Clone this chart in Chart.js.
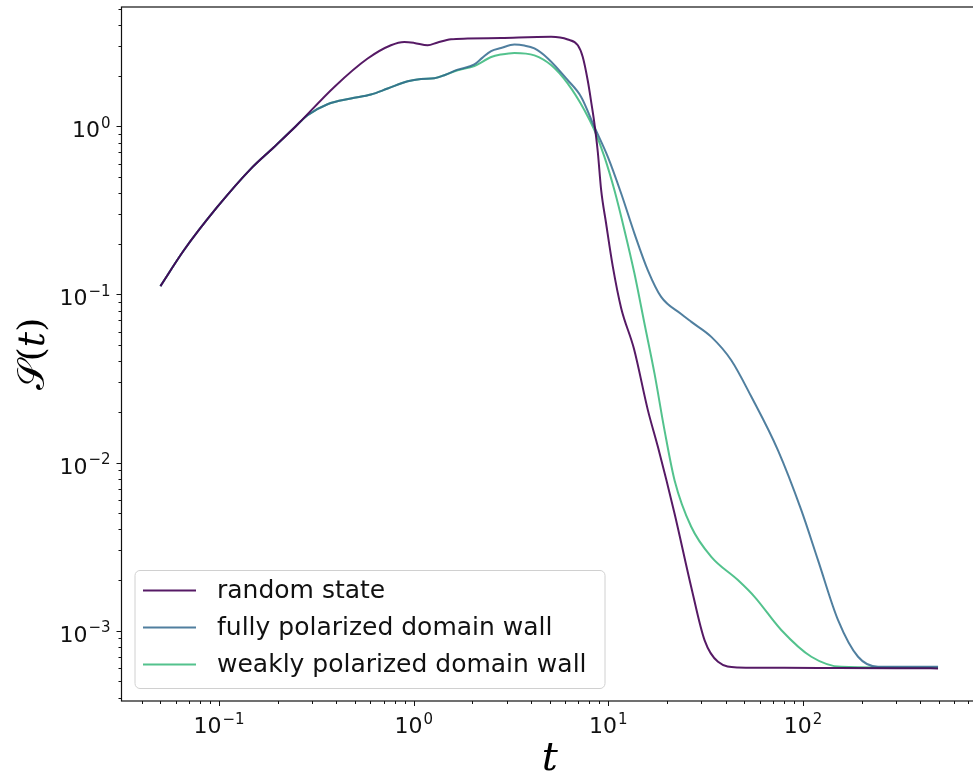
<!DOCTYPE html>
<html>
<head>
<meta charset="utf-8">
<script src="https://cdn.jsdelivr.net/npm/chart.js@4.4.0/dist/chart.umd.min.js"></script>
<style>
  html, body { margin: 0; padding: 0; background: #ffffff; overflow: hidden; }
  #wrap { width: 980px; height: 780px; }
</style>
</head>
<body>
<div id="wrap"><canvas id="c" width="980" height="780"></canvas></div>
<script>
// Series labels
const seriesNames = ['random state', 'fully polarized domain wall', 'weakly polarized domain wall'];

// Random state: time t and S(t)
const randomT = [0.05, 0.066, 0.098, 0.146, 0.192, 0.248, 0.391, 0.58, 0.764, 0.895, 1.007, 1.18, 1.328, 1.555, 1.895, 2.81, 5.08, 6.19, 6.97, 7.39, 7.85, 8.2, 8.48, 8.83, 9.18, 9.74, 10.55, 11.64, 13.54, 15.96, 17.97, 21.88, 26.65, 31.2, 36.6, 46.3, 80, 150, 300, 494];
const randomS = [0.112, 0.183, 0.331, 0.56, 0.753, 1.0, 1.713, 2.526, 3.03, 3.17, 3.13, 3.03, 3.15, 3.29, 3.32, 3.35, 3.40, 3.28, 3.03, 2.58, 1.85, 1.35, 1.04, 0.70, 0.42, 0.264, 0.1457, 0.0828, 0.0475, 0.0205, 0.0124, 0.00498, 0.00182, 0.000879, 0.000653, 0.000605, 0.000602, 0.0006, 0.000598, 0.000597];

// Fully polarized domain wall
const fullyT = [0.05, 0.066, 0.098, 0.146, 0.192, 0.248, 0.285, 0.361, 0.476, 0.603, 0.735, 0.932, 1.09, 1.276, 1.436, 1.683, 2.05, 2.25, 2.50, 2.81, 3.29, 3.70, 4.17, 4.89, 6.19, 7.25, 8.48, 9.94, 11.64, 13.62, 15.96, 18.68, 23.66, 26.7, 33.8, 42.8, 54.3, 74.3, 98, 119.4, 151.4, 191.8, 243, 494];
const fullyS = [0.112, 0.183, 0.331, 0.56, 0.753, 1.0, 1.163, 1.352, 1.461, 1.543, 1.675, 1.851, 1.91, 1.93, 2.01, 2.17, 2.33, 2.55, 2.80, 2.92, 3.06, 3.02, 2.90, 2.53, 1.877, 1.494, 0.99, 0.657, 0.398, 0.230, 0.139, 0.0966, 0.0764, 0.0686, 0.0559, 0.0406, 0.0246, 0.01185, 0.00521, 0.00263, 0.001156, 0.0007, 0.00061, 0.00061];

// Weakly polarized domain wall
const weaklyT = [0.05, 0.066, 0.098, 0.146, 0.192, 0.248, 0.285, 0.361, 0.476, 0.603, 0.735, 0.932, 1.09, 1.276, 1.436, 1.683, 2.05, 2.50, 2.81, 3.29, 4.17, 5.08, 6.19, 7.54, 8.48, 9.55, 10.75, 12.10, 13.62, 15.33, 17.26, 19.43, 21.88, 26.65, 33.8, 46.3, 56.4, 77.3, 110.4, 157.4, 494];
const weaklyS = [0.112, 0.183, 0.331, 0.56, 0.753, 1.0, 1.163, 1.352, 1.461, 1.543, 1.675, 1.851, 1.91, 1.93, 2.01, 2.15, 2.28, 2.58, 2.67, 2.73, 2.64, 2.31, 1.79, 1.245, 0.947, 0.657, 0.416, 0.241, 0.133, 0.0671, 0.0339, 0.0156, 0.00786, 0.00415, 0.00275, 0.0020, 0.00159, 0.00101, 0.0007, 0.00061, 0.000602];

// Labelled decades on each axis
const xTickValues = [0.1, 1, 10, 100];
const yTickValues = [1e-3, 1e-2, 1e-1, 1];

// Axis limits (log10 exponents)
const xLogRange = [-1.501, 2.899];
const yLogRange = [-3.418, 0.709];

const seriesColors = ['rgba(68,1,84,0.9)', 'rgba(49,104,142,0.85)', 'rgba(53,183,121,0.85)'];

function exponentText(v) {
  return String(Math.round(Math.log10(v))).replace('-', '\u2212');
}

function toPoints(ts, ss) { return ts.map((t, i) => ({ x: t, y: ss[i] })); }

const datasets = [
  { label: seriesNames[0], data: toPoints(randomT, randomS), borderColor: seriesColors[0] },
  { label: seriesNames[1], data: toPoints(fullyT, fullyS), borderColor: seriesColors[1] },
  { label: seriesNames[2], data: toPoints(weaklyT, weaklyS), borderColor: seriesColors[2] }
];

const BASE_FONT = '22px "DejaVu Sans"';
const EXP_FONT = '15px "DejaVu Sans"';

// Draws "10" with a raised exponent; anchor is 'center' (x axis) or 'right' (y axis)
function drawPower(ctx, v, x, baseY, anchor) {
  const exp = exponentText(v);
  ctx.font = BASE_FONT;
  const wb = ctx.measureText('10').width;
  ctx.font = EXP_FONT;
  const we = ctx.measureText(exp).width + 1;
  const left = anchor === 'center' ? x - (wb + we) / 2 : x - (wb + we);
  ctx.textAlign = 'left';
  ctx.textBaseline = 'alphabetic';
  ctx.font = BASE_FONT;
  ctx.fillText('10', left, baseY);
  ctx.font = EXP_FONT;
  ctx.fillText(exp, left + wb + 1, baseY - 9.5);
}

// Frame, log ticks, tick labels, axis titles and the in-plot legend
const decorations = {
  id: 'decorations',
  afterDraw(chart) {
    const { ctx, chartArea: a, scales } = chart;
    ctx.save();
    ctx.strokeStyle = '#111';
    ctx.lineWidth = 1.2;
    ctx.strokeRect(a.left, a.top, a.right - a.left, a.bottom - a.top);

    ctx.lineWidth = 1;
    const drawTicks = (scale, horizontal) => {
      const lo = Math.floor(Math.log10(scale.min)), hi = Math.ceil(Math.log10(scale.max));
      for (let n = lo; n <= hi; n++) {
        for (let k = 1; k < 10; k++) {
          const v = k * Math.pow(10, n);
          if (v < scale.min || v > scale.max) continue;
          const p = Math.round(scale.getPixelForValue(v)) + 0.5;
          const len = k === 1 ? 5 : 3;
          ctx.beginPath();
          if (horizontal) { ctx.moveTo(p, a.bottom); ctx.lineTo(p, a.bottom + len); }
          else { ctx.moveTo(a.left, p); ctx.lineTo(a.left - len, p); }
          ctx.stroke();
        }
      }
    };
    drawTicks(scales.x, true);
    drawTicks(scales.y, false);

    // tick labels
    ctx.fillStyle = '#111';
    scales.x.ticks.forEach(t => {
      drawPower(ctx, t.value, scales.x.getPixelForValue(t.value), a.bottom + 32, 'center');
    });
    scales.y.ticks.forEach(t => {
      drawPower(ctx, t.value, a.left - 11, scales.y.getPixelForValue(t.value) + 11, 'right');
    });

    // axis titles
    ctx.fillStyle = '#000';
    ctx.textAlign = 'center';
    ctx.textBaseline = 'middle';
    ctx.font = 'italic 40px "DejaVu Serif"';
    ctx.fillText('t', (a.left + a.right) / 2, 760);

    ctx.save();
    ctx.translate(34, (a.top + a.bottom) / 2);
    ctx.rotate(-Math.PI / 2);
    const parts = [
      ['\uD835\uDCAE', '38px "DejaVu Serif"'],
      ['(', '36px "DejaVu Serif"'],
      ['t', 'italic 38px "DejaVu Serif"'],
      [')', '36px "DejaVu Serif"']
    ];
    let total = 0;
    const widths = parts.map(([s, f]) => { ctx.font = f; const w = ctx.measureText(s).width; total += w; return w; });
    let px = -total / 2;
    ctx.textAlign = 'left';
    parts.forEach(([s, f], i) => { ctx.font = f; ctx.fillText(s, px, 0); px += widths[i]; });
    ctx.restore();

    // legend
    const bx = a.left + 13.5, by = 570.5, bw = 470, bh = 118, r = 5;
    ctx.beginPath();
    ctx.moveTo(bx + r, by);
    ctx.arcTo(bx + bw, by, bx + bw, by + bh, r);
    ctx.arcTo(bx + bw, by + bh, bx, by + bh, r);
    ctx.arcTo(bx, by + bh, bx, by, r);
    ctx.arcTo(bx, by, bx + bw, by, r);
    ctx.closePath();
    ctx.fillStyle = 'rgba(255,255,255,0.8)';
    ctx.fill();
    ctx.strokeStyle = '#d0d0d0';
    ctx.lineWidth = 1;
    ctx.stroke();

    ctx.font = '25px "DejaVu Sans"';
    ctx.textAlign = 'left';
    ctx.textBaseline = 'middle';
    chart.data.datasets.forEach((ds, i) => {
      const yy = by + 20 + i * 37;
      ctx.strokeStyle = ds.borderColor;
      ctx.lineWidth = 2;
      ctx.beginPath();
      ctx.moveTo(bx + 8, yy);
      ctx.lineTo(bx + 61, yy);
      ctx.stroke();
      ctx.fillStyle = '#111';
      ctx.fillText(ds.label, bx + 82, yy + 1);
    });
    ctx.restore();
  }
};

new Chart(document.getElementById('c'), {
  type: 'line',
  data: { datasets },
  options: {
    responsive: false,
    animation: false,
    layout: { padding: { top: 7, right: 2, left: 0, bottom: 0 } },
    plugins: { legend: { display: false }, tooltip: { enabled: false } },
    elements: {
      point: { radius: 0 },
      line: { borderWidth: 2, cubicInterpolationMode: 'monotone', fill: false }
    },
    scales: {
      x: {
        type: 'logarithmic',
        min: Math.pow(10, xLogRange[0]),
        max: Math.pow(10, xLogRange[1]),
        grid: { display: false, drawTicks: false },
        border: { display: false },
        ticks: { display: false },
        afterBuildTicks: s => { s.ticks = xTickValues.map(v => ({ value: v })); },
        afterFit: s => { s.height = 79; s.paddingLeft = 0; s.paddingRight = 0; }
      },
      y: {
        type: 'logarithmic',
        min: Math.pow(10, yLogRange[0]),
        max: Math.pow(10, yLogRange[1]),
        grid: { display: false, drawTicks: false },
        border: { display: false },
        ticks: { display: false },
        afterBuildTicks: s => { s.ticks = yTickValues.map(v => ({ value: v })); },
        afterFit: s => { s.width = 121.5; s.paddingTop = 0; s.paddingBottom = 0; }
      }
    }
  },
  plugins: [decorations]
});
</script>
</body>
</html>
